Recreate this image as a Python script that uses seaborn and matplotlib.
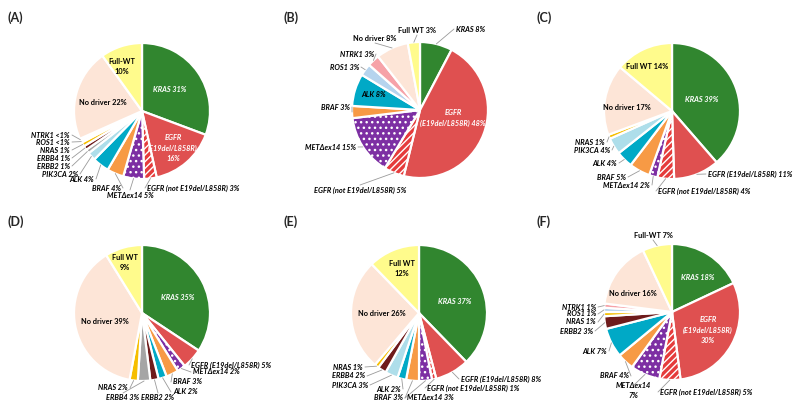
import numpy as np
import matplotlib.pyplot as plt
import seaborn as sns

sns.set_theme(style="white")
plt.rcParams['font.family'] = ['Lato', 'DejaVu Sans']
plt.rcParams['hatch.linewidth'] = 1.0

W, H = 797, 412
R = 68

# category colours
palette = {
    "KRAS": "#31862f",
    "EGFR (E19del/L858R)": "#df5050",
    "EGFR (not E19del/L858R)": "#e53c3c",
    "METΔex14": "#7d2fa3",
    "BRAF": "#f79a45",
    "ALK": "#00a9c6",
    "PIK3CA": "#aedeea",
    "ERBB2": "#6e1b1b",
    "ERBB4": "#a5a5a5",
    "NRAS": "#f6be00",
    "ROS1": "#b6d4ee",
    "NTRK1": "#f6a2a8",
    "No driver": "#fde5d7",
    "Full WT": "#fffb8c",
    "Full-WT": "#fffb8c",
}
hatches = {"EGFR (not E19del/L858R)": "/////", "METΔex14": "..."}
plain = ["No driver", "Full WT", "Full-WT"]

# ---- data ----
cats_A = ["KRAS", "EGFR (E19del/L858R)", "EGFR (not E19del/L858R)", "METΔex14", "BRAF", "ALK",
          "PIK3CA", "ERBB2", "ERBB4", "NRAS", "ROS1", "NTRK1", "No driver", "Full-WT"]
vals_A = [31, 16, 3, 5, 4, 4, 2, 1, 1, 1, 0.5, 0.5, 22, 10]
pct_A = ["31%", "16%", "3%", "5%", "4%", "4%", "2%", "1%", "1%", "1%", "<1%", "<1%", "22%", "10%"]

cats_B = ["KRAS", "EGFR (E19del/L858R)", "EGFR (not E19del/L858R)", "METΔex14", "BRAF", "ALK",
          "ROS1", "NTRK1", "No driver", "Full WT"]
vals_B = [8, 48, 5, 15, 3, 8, 3, 3, 8, 3]
pct_B = ["8%", "48%", "5%", "15%", "3%", "8%", "3%", "3%", "8%", "3%"]

cats_C = ["KRAS", "EGFR (E19del/L858R)", "EGFR (not E19del/L858R)", "METΔex14", "BRAF", "ALK",
          "PIK3CA", "NRAS", "No driver", "Full WT"]
vals_C = [39, 11, 4, 2, 5, 4, 4, 1, 17, 14]
pct_C = ["39%", "11%", "4%", "2%", "5%", "4%", "4%", "1%", "17%", "14%"]

cats_D = ["KRAS", "EGFR (E19del/L858R)", "METΔex14", "BRAF", "ALK", "ERBB2", "ERBB4", "NRAS",
          "No driver", "Full WT"]
vals_D = [35, 5, 2, 3, 2, 2, 3, 2, 39, 9]
pct_D = ["35%", "5%", "2%", "3%", "2%", "2%", "3%", "2%", "39%", "9%"]

cats_E = ["KRAS", "EGFR (E19del/L858R)", "EGFR (not E19del/L858R)", "METΔex14", "BRAF", "ALK",
          "PIK3CA", "ERBB4", "NRAS", "No driver", "Full WT"]
vals_E = [37, 8, 1, 3, 3, 2, 3, 2, 1, 26, 12]
pct_E = ["37%", "8%", "1%", "3%", "3%", "2%", "3%", "2%", "1%", "26%", "12%"]

cats_F = ["KRAS", "EGFR (E19del/L858R)", "EGFR (not E19del/L858R)", "METΔex14", "BRAF", "ALK",
          "ERBB2", "NRAS", "ROS1", "NTRK1", "No driver", "Full-WT"]
vals_F = [18, 30, 5, 7, 4, 7, 3, 1, 1, 1, 16, 7]
pct_F = ["18%", "30%", "5%", "7%", "4%", "7%", "3%", "1%", "1%", "1%", "16%", "7%"]

# ---- label layout (pixel positions, y from top) ----
# name: (x, y, ha, inside, fmt, colour)
lay_A = {
    "KRAS": (170, 89, "center", True, "{n} {p}", "white"),
    "EGFR (E19del/L858R)": (173, 148, "center", True, "EGFR\n(E19del/L858R)\n{p}", "white"),
    "EGFR (not E19del/L858R)": (147, 188, "left", False, "{n} {p}", "black"),
    "METΔex14": (130, 195, "center", False, "{n} {p}", "black"),
    "BRAF": (121, 188, "right", False, "{n} {p}", "black"),
    "ALK": (94, 179, "right", False, "{n} {p}", "black"),
    "PIK3CA": (78, 174, "right", False, "{n} {p}", "black"),
    "ERBB2": (70, 166, "right", False, "{n} {p}", "black"),
    "ERBB4": (70, 158, "right", False, "{n} {p}", "black"),
    "NRAS": (70, 150, "right", False, "{n} {p}", "black"),
    "ROS1": (70, 142, "right", False, "{n} {p}", "black"),
    "NTRK1": (70, 135, "right", False, "{n} {p}", "black"),
    "No driver": (103, 102, "center", True, "{n} {p}", "black"),
    "Full-WT": (122, 66, "center", True, "{n}\n{p}", "black"),
}
lay_B = {
    "KRAS": (456, 29, "left", False, "{n} {p}", "black"),
    "EGFR (E19del/L858R)": (453, 118, "center", True, "EGFR\n(E19del/L858R) {p}", "white"),
    "EGFR (not E19del/L858R)": (360, 190, "center", False, "{n} {p}", "black"),
    "METΔex14": (356, 147, "right", False, "{n} {p}", "black"),
    "BRAF": (350, 107, "right", False, "{n} {p}", "black"),
    "ALK": (374, 94, "center", True, "{n} {p}", "black"),
    "ROS1": (359, 67, "right", False, "{n} {p}", "black"),
    "NTRK1": (374, 54, "right", False, "{n} {p}", "black"),
    "No driver": (375, 38, "center", False, "{n} {p}", "black"),
    "Full WT": (417, 30, "center", False, "{n} {p}", "black"),
}
lay_C = {
    "KRAS": (702, 99, "center", True, "{n} {p}", "white"),
    "EGFR (E19del/L858R)": (708, 174, "left", False, "{n} {p}", "black"),
    "EGFR (not E19del/L858R)": (658, 191, "left", False, "{n} {p}", "black"),
    "METΔex14": (650, 185, "right", False, "{n} {p}", "black"),
    "BRAF": (626, 177, "right", False, "{n} {p}", "black"),
    "ALK": (617, 163, "right", False, "{n} {p}", "black"),
    "PIK3CA": (610, 150, "right", False, "{n} {p}", "black"),
    "NRAS": (605, 142, "right", False, "{n} {p}", "black"),
    "No driver": (627, 107, "center", True, "{n} {p}", "black"),
    "Full WT": (647, 66, "center", True, "{n} {p}", "black"),
}
lay_D = {
    "KRAS": (178, 297, "center", True, "{n} {p}", "white"),
    "EGFR (E19del/L858R)": (191, 365, "left", False, "{n} {p}", "black"),
    "METΔex14": (193, 372, "left", False, "{n} {p}", "black"),
    "BRAF": (173, 382, "left", False, "{n} {p}", "black"),
    "ALK": (173, 392, "left", False, "{n} {p}", "black"),
    "ERBB2": (158, 398, "center", False, "{n} {p}", "black"),
    "ERBB4": (123, 398, "center", False, "{n} {p}", "black"),
    "NRAS": (128, 388, "right", False, "{n} {p}", "black"),
    "No driver": (105, 322, "center", True, "{n} {p}", "black"),
    "Full WT": (125, 263, "center", True, "{n}\n{p}", "black"),
}
lay_E = {
    "KRAS": (455, 302, "center", True, "{n} {p}", "white"),
    "EGFR (E19del/L858R)": (461, 379, "left", False, "{n} {p}", "black"),
    "EGFR (not E19del/L858R)": (427, 388, "left", False, "{n} {p}", "black"),
    "METΔex14": (407, 398, "left", False, "{n} {p}", "black"),
    "BRAF": (403, 398, "right", False, "{n} {p}", "black"),
    "ALK": (401, 389, "right", False, "{n} {p}", "black"),
    "PIK3CA": (368, 385, "right", False, "{n} {p}", "black"),
    "ERBB4": (365, 376, "right", False, "{n} {p}", "black"),
    "NRAS": (363, 367, "right", False, "{n} {p}", "black"),
    "No driver": (382, 314, "center", True, "{n} {p}", "black"),
    "Full WT": (402, 268, "center", True, "{n}\n{p}", "black"),
}
lay_F = {
    "KRAS": (698, 277, "center", True, "{n} {p}", "white"),
    "EGFR (E19del/L858R)": (708, 330, "center", True, "EGFR\n(E19del/L858R)\n{p}", "white"),
    "EGFR (not E19del/L858R)": (660, 392, "left", False, "{n} {p}", "black"),
    "METΔex14": (633, 391, "center", False, "{n}\n{p}", "black"),
    "BRAF": (629, 376, "right", False, "{n} {p}", "black"),
    "ALK": (607, 351, "right", False, "{n} {p}", "black"),
    "ERBB2": (593, 331, "right", False, "{n} {p}", "black"),
    "NRAS": (596, 322, "right", False, "{n} {p}", "black"),
    "ROS1": (596, 314, "right", False, "{n} {p}", "black"),
    "NTRK1": (596, 307, "right", False, "{n} {p}", "black"),
    "No driver": (633, 293, "center", True, "{n} {p}", "black"),
    "Full-WT": (653, 235, "center", False, "{n} {p}", "black"),
}

panels = [
    ("(A)", (8, 18), (142, 111), cats_A, vals_A, pct_A, lay_A, {"ERBB2": "#a5a5a5", "ERBB4": "#6e1b1b"}),
    ("(B)", (284, 18), (420, 110), cats_B, vals_B, pct_B, lay_B, {}),
    ("(C)", (537, 18), (672, 111), cats_C, vals_C, pct_C, lay_C, {}),
    ("(D)", (8, 222), (142, 313), cats_D, vals_D, pct_D, lay_D, {}),
    ("(E)", (284, 222), (419, 313), cats_E, vals_E, pct_E, lay_E, {"ERBB4": "#6e1b1b"}),
    ("(F)", (537, 222), (672, 312), cats_F, vals_F, pct_F, lay_F, {}),
]

fig = plt.figure(figsize=(W / 100, H / 100), dpi=100)
ax = fig.add_axes([0, 0, 1, 1])

for letter, lxy, (cx, cy), cats, vals, pcts, lay, override in panels:
    cols = [override.get(c, palette[c]) for c in cats]
    wedges, _ = ax.pie(vals, colors=cols, startangle=90, counterclock=False,
                       center=(cx, H - cy), radius=R,
                       wedgeprops=dict(edgecolor="white", linewidth=1.6))
    for w, c in zip(wedges, cats):
        if c in hatches:
            w.set_hatch(hatches[c])
    ax.text(lxy[0], H - lxy[1], letter, fontsize=9, fontweight="bold", ha="left", va="center")

    for w, c, p in zip(wedges, cats, pcts):
        x, y, ha, inside, fmt, tc = lay[c]
        style = "normal" if c in plain else "italic"
        ax.text(x, H - y, fmt.format(n=c, p=p), fontsize=5.3, fontweight="bold", fontstyle=style,
                color=tc, ha=ha, va="center", linespacing=1.5)
        if inside:
            continue
        mid = np.deg2rad((w.theta1 + w.theta2) / 2)
        px, py = cx + R * np.cos(mid), (H - cy) + R * np.sin(mid)
        if ha == "right":
            qx, qy = x + 2, H - y
        elif ha == "left":
            qx, qy = x - 2, H - y
        else:
            qx = x
            qy = H - y + (5 if (H - y) < py else -5)
        ax.plot([px, qx], [py, qy], color="#9a9a9a", linewidth=0.6)

ax.set_xlim(0, W)
ax.set_ylim(0, H)
ax.set_aspect("equal")
ax.axis("off")
fig.savefig("out.png", dpi=100, facecolor="white")
